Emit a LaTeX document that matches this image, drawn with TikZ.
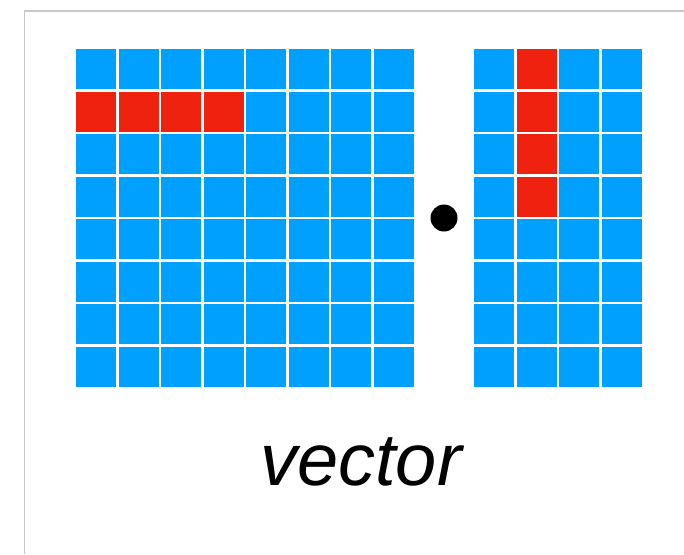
\documentclass[tikz,border=0pt]{standalone}
\usepackage{fontspec}
\setmainfont{Liberation Sans}

\definecolor{cellblue}{RGB}{0,160,255}
\definecolor{cellred}{RGB}{238,34,14}
\definecolor{framegray}{RGB}{200,200,200}

\tikzset{
    cell/.style={fill=cellblue, draw=none, minimum size=40pt, inner sep=0pt, anchor=north west},
    hot/.style={fill=cellred}
}

\begin{document}
\begin{tikzpicture}[x=1pt,y=-1pt]

    \useasboundingbox (0,0) rectangle (684,554);

    % frame
    \coordinate (F1) at (684,11);
    \coordinate (F2) at (24.5,11);
    \coordinate (F3) at (24.5,554);
    \draw[framegray, line width=1.2pt] (F1) -- (F2) -- (F3);

    % left matrix, 8x8
    \foreach \r in {0,...,7}
        \foreach \c in {0,...,7}
        {
            \node[cell] (A\r\c) at (76+42.5*\c, 49+42.5*\r) {};
        }
    % its second row
    \foreach \c in {0,...,3}
        \node[cell,hot] (A1\c) at (76+42.5*\c, 49+42.5) {};

    % right matrix, 8x4
    \foreach \r in {0,...,7}
        \foreach \c in {0,...,3}
        {
            \node[cell] (B\r\c) at (474+42.5*\c, 49+42.5*\r) {};
        }
    % its second column
    \foreach \r in {0,...,3}
        \node[cell,hot] (B\r1) at (474+42.5, 49+42.5*\r) {};

    % dot product sign
    \node[circle, fill=black, minimum size=27pt, inner sep=0pt] (dot) at (444,218) {};

    \node[anchor=base, inner sep=0pt] (vec) at (361,485)
        {\fontsize{74}{74}\selectfont\itshape vector};

\end{tikzpicture}
\end{document}
